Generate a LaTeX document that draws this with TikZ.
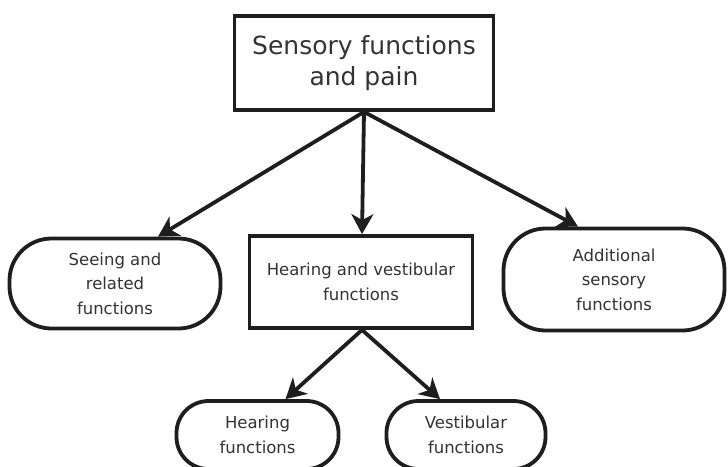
\documentclass[tikz,border=0pt]{standalone}
\usepackage{fontspec}
\setmainfont{DejaVu Sans}
\usetikzlibrary{arrows.meta}
\definecolor{ink}{HTML}{1E1E1E}
\definecolor{txt}{HTML}{333333}
\tikzset{
  base/.style={draw=ink, line width=3.8pt, text=txt, align=center, inner sep=0pt},
  sqbox/.style={base},
  pill/.style={base, rounded corners=42pt},
  midfont/.style={font=\fontsize{16.5}{24.5}\selectfont},
  arr/.style={draw=ink, line width=3.8pt, -{Stealth[length=20pt, width=22pt, inset=6pt]}},
}
\begin{document}
\begin{tikzpicture}[x=1pt,y=-1pt]
\useasboundingbox[fill=white] (0,0) rectangle (728,466);
\node[sqbox, minimum width=259pt, minimum height=94pt, font=\fontsize{25}{31}\selectfont] (top) at (364,63) {Sensory functions\\and pain};
\node[pill, midfont, minimum width=211pt, minimum height=90pt] (seeing) at (115,283.5) {Seeing and\\related\\functions};
\node[sqbox, midfont, minimum width=223pt, minimum height=92pt] (hv) at (361,282) {Hearing and vestibular\\functions};
\node[pill, midfont, minimum width=221pt, minimum height=102pt] (add) at (614,279.5) {Additional\\sensory\\functions};
\node[pill, midfont, minimum width=162pt, minimum height=68pt, rounded corners=32pt] (hear) at (257.5,435) {Hearing\\functions};
\node[pill, midfont, minimum width=159pt, minimum height=68pt, rounded corners=32pt] (vest) at (466,435) {Vestibular\\functions};
\draw[arr] (top.south) -- ([xshift=43pt]seeing.north);
\draw[arr] (top.south) -- ([xshift=1pt]hv.north);
\draw[arr] (top.south) -- ([xshift=-36pt]add.north);
\draw[arr] ([xshift=1pt]hv.south) -- ([xshift=28pt]hear.north);
\draw[arr] ([xshift=1pt]hv.south) -- ([xshift=-26pt]vest.north);
\end{tikzpicture}
\end{document}
